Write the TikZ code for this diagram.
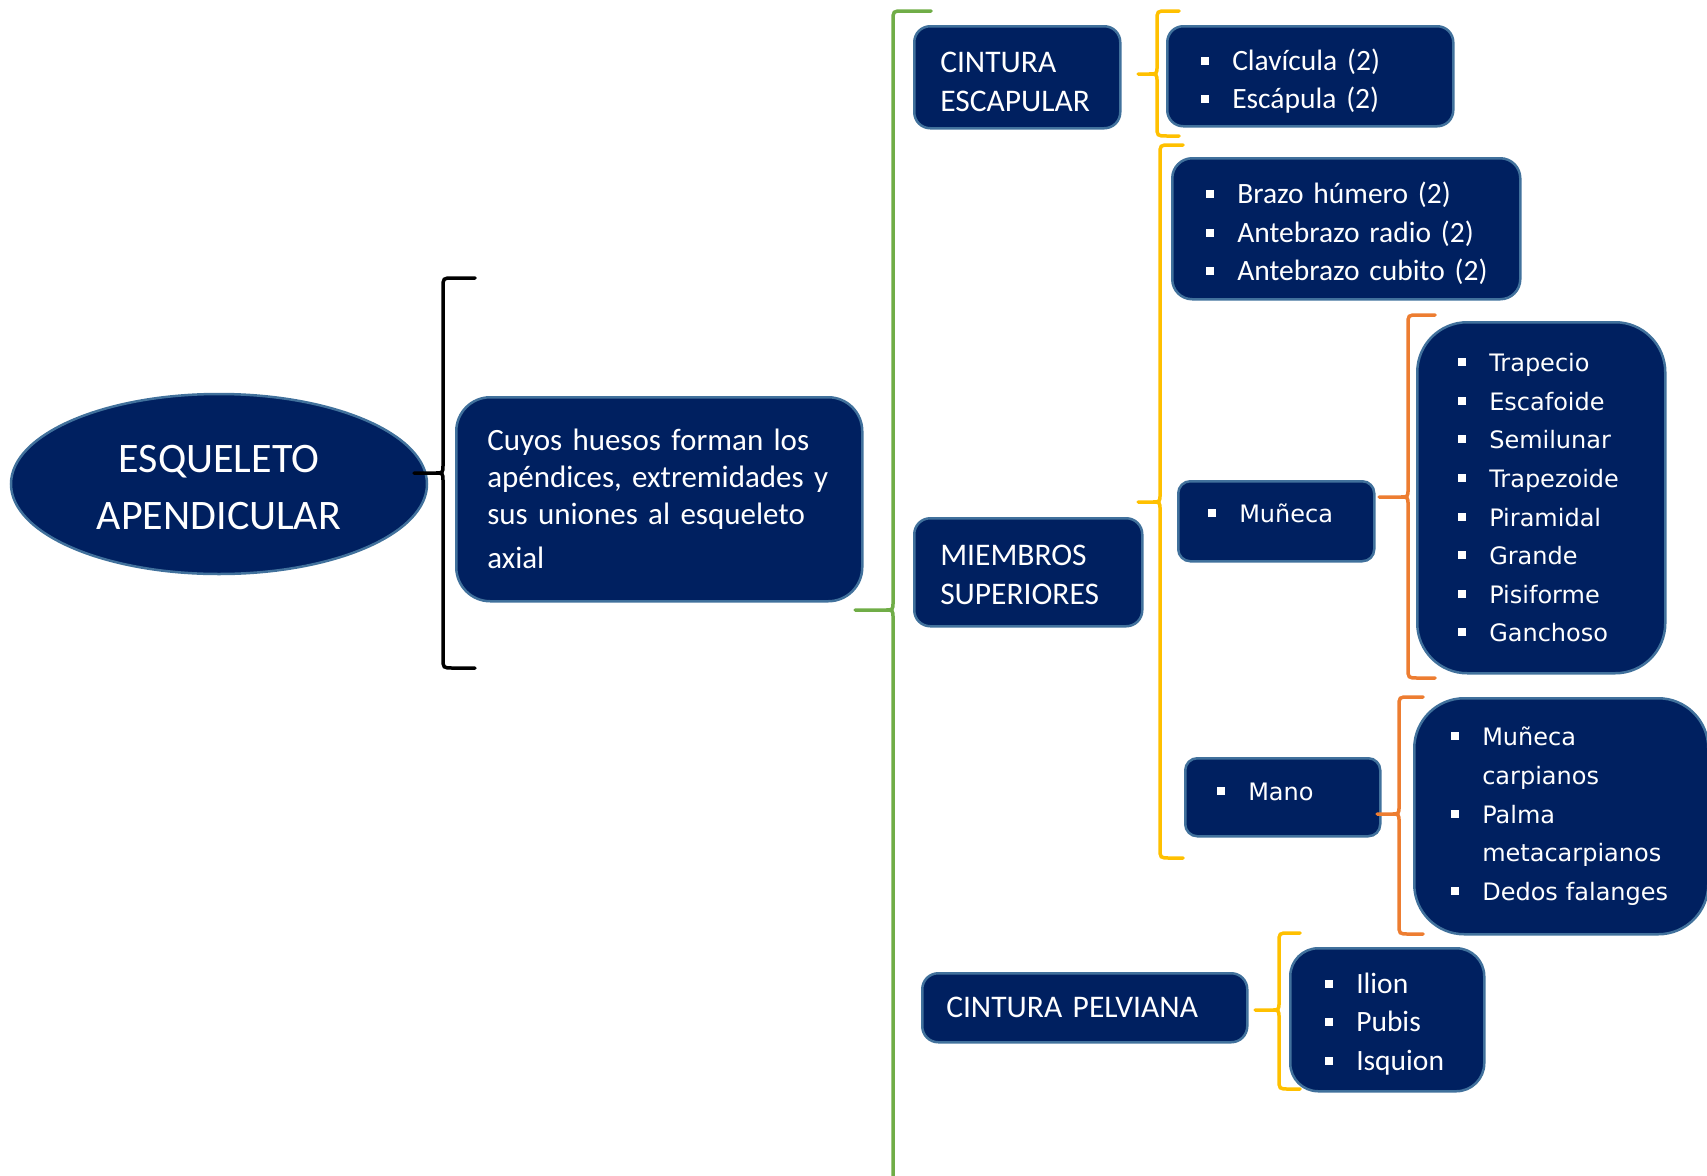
\documentclass[tikz,border=0pt]{standalone}
\usepackage{fontspec}
\setmainfont{Carlito}
\newfontfamily\verd{DejaVu Sans}
\usetikzlibrary{shapes.geometric}

\definecolor{navy}{HTML}{002060}
\definecolor{edge}{HTML}{41719C}
\definecolor{leafgreen}{HTML}{70AD47}
\definecolor{gold}{HTML}{FFC000}
\definecolor{tangerine}{HTML}{ED7D31}

% small square bullet
\newcommand\sq{\makebox[31pt][l]{\rule[5.5pt]{8pt}{8pt}}}
% invisible strut that pushes the text block down
\newcommand\topgap[1]{\rule{0pt}{#1}}
% curly bracket: style, x, top, bottom, tip x, tip y, end length
\newcommand\curly[7]{%
  \draw[#1] ({#2+#7},#3) -- ({#2+10},#3) .. controls (#2,#3) .. (#2,{#3+10})
    -- (#2,{#6-8}) .. controls (#2,#6) .. ({#2-8},#6) -- (#5,#6)
    ({#2-8},#6) .. controls (#2,#6) .. (#2,{#6+8})
    -- (#2,{#4-10}) .. controls (#2,#4) .. ({#2+10},#4) -- ({#2+#7},#4);}

\tikzset{
  box/.style={draw=edge, fill=navy, text=white, line width=2.5pt, anchor=north west, align=left, inner ysep=0pt},
  titlebox/.style={box, font=\fontsize{31.5}{39}\selectfont, inner xsep=26pt, rounded corners=16pt},
  listbox/.style={box, font=\fontsize{29.5}{38.5}\selectfont},
  widebox/.style={box, font=\verd\fontsize{24}{38.6}\selectfont},
  bracepen/.style={line width=3.5pt, line cap=round}
}

\begin{document}
\begin{tikzpicture}[x=1pt, y=-1pt]
    \useasboundingbox (0,0) rectangle (1707,1175);

    \node[ellipse, draw=edge, fill=navy, text=white, line width=2.5pt, minimum width=416pt, minimum height=180pt,
        align=center, font=\fontsize{42}{57}\selectfont] (esq) at (219,484) {\topgap{34pt}ESQUELETO\\APENDICULAR};
    \node[box, font=\fontsize{31}{37}\selectfont, inner xsep=31pt, text width=344pt, minimum height=204pt,
        rounded corners=34pt] (desc) at (455,396)
        {\mbox{Cuyos huesos forman los}\\\mbox{apéndices, extremidades y}\\\mbox{sus uniones al esqueleto}\\[7pt]axial};

    \node[titlebox, text width=154pt, minimum height=102pt] (cesc) at (913,25) {\topgap{29pt}CINTURA\\ESCAPULAR};
    \node[titlebox, text width=176pt, minimum height=108pt] (msup) at (913,517) {\topgap{25pt}MIEMBROS\\SUPERIORES};
    \node[titlebox, inner xsep=24pt, text width=277pt, minimum height=69pt] (cpel) at (921,972) {CINTURA PELVIANA};

    \node[listbox, inner xsep=34pt, text width=218pt, minimum height=100pt, rounded corners=16pt] (clav) at (1166,25)
        {\topgap{31pt}\mbox{\sq Clavícula (2)}\\\mbox{\sq Escápula (2)}};
    \node[listbox, inner xsep=34pt, text width=280pt, minimum height=141pt, rounded corners=20pt] (brazo) at (1171,157)
        {\topgap{31pt}\mbox{\sq Brazo húmero (2)}\\\mbox{\sq Antebrazo radio (2)}\\\mbox{\sq Antebrazo cubito (2)}};
    \node[widebox, inner xsep=30pt, text width=136pt, minimum height=80pt, rounded corners=12pt,
        text height=14pt, text depth=11pt] (muneca) at (1177,480) {\sq Muñeca};
    \node[widebox, inner xsep=41pt, text width=166pt, minimum height=351pt, rounded corners=50pt] (carpos) at (1416,321)
        {\sq Trapecio\\\sq Escafoide\\\sq Semilunar\\\sq Trapezoide\\\sq Piramidal\\\sq Grande\\\sq Pisiforme\\\sq Ganchoso};
    \node[widebox, inner xsep=32pt, text width=131pt, minimum height=78pt, rounded corners=12pt,
        text height=15pt, text depth=8pt] (mano) at (1184,757) {\sq Mano};
    \node[widebox, inner xsep=37pt, text width=220pt, minimum height=236pt, rounded corners=50pt] (dedos) at (1413,697)
        {\mbox{\sq Muñeca}\\\mbox{\hspace*{31pt}carpianos}\\\mbox{\sq Palma}\\\mbox{\hspace*{31pt}metacarpianos}\\\mbox{\sq Dedos falanges}};
    \node[listbox, inner xsep=35pt, text width=124pt, minimum height=143pt, rounded corners=28pt] (ilion) at (1289,947)
        {\topgap{29pt}\sq Ilion\\\sq Pubis\\\sq Isquion};

    % brackets
    \curly{bracepen, black}{443}{278}{668}{414}{473}{32}
    \curly{bracepen, leafgreen}{893}{11}{1209}{855}{610}{38}
    \curly{bracepen, gold}{1157}{11}{136}{1138}{74}{22}
    \curly{bracepen, gold}{1160}{145}{858}{1138}{502}{23}
    \curly{bracepen, tangerine}{1408}{315}{678}{1379}{497}{27}
    \curly{bracepen, tangerine}{1399}{697}{934}{1377}{814}{24}
    \curly{bracepen, gold}{1279}{933}{1089}{1255}{1010}{21}
\end{tikzpicture}
\end{document}
